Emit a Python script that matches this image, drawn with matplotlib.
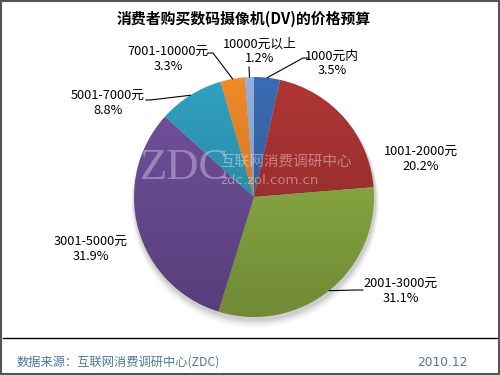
import numpy as np
import matplotlib
matplotlib.use("Agg")
import matplotlib.pyplot as plt
from matplotlib.patches import Circle, Rectangle

plt.rcParams['font.family'] = ['Noto Sans CJK SC', 'DejaVu Sans']

# data
categories = ['1000元内', '1001-2000元', '2001-3000元', '3001-5000元',
              '5001-7000元', '7001-10000元', '10000元以上']
shares = [3.5, 20.2, 31.1, 31.9, 8.8, 3.3, 1.2]
colors = ['#3a6cb3', '#b03535', '#95b747', '#7452a0', '#31a0c0', '#f08a2a', '#94b0dc']

title = '消费者购买数码摄像机(DV)的价格预算'
source = '数据来源：互联网消费调研中心(ZDC)'
date = '2010.12'

# figure in pixel coordinates (y up)
W, H = 500, 375
fig = plt.figure(figsize=(5, 3.75), dpi=100)
ax = fig.add_axes([0, 0, 1, 1])
ax.set_xlim(0, W)
ax.set_ylim(0, H)
ax.set_aspect('equal')
ax.axis('off')

cx, cy, r = 254, H - 197, 120

# soft shadow under the pie
for i, a in enumerate(np.linspace(0.06, 0.02, 5)):
    ax.add_patch(Circle((cx + 1, cy - 3 - i), r + 1 + i * 0.8, color='black',
                        alpha=a, lw=0, zorder=1))

wedges, _ = ax.pie(shares, colors=colors, startangle=90, counterclock=False,
                   center=(cx, cy), radius=r, frame=True,
                   wedgeprops=dict(linewidth=0, zorder=2))
ax.set_xlim(0, W)
ax.set_ylim(0, H)
ax.axis('off')

# vertical darkening gradient over the pie
grad = np.zeros((200, 1, 4))
grad[:, 0, 3] = np.linspace(0.0, 0.25, 200)
im = ax.imshow(grad, extent=(cx - r, cx + r, cy - r, cy + r), origin='upper',
               aspect='auto', zorder=3)
im.set_clip_path(Circle((cx, cy), r, transform=ax.transData))
ax.set_xlim(0, W)
ax.set_ylim(0, H)

# watermark
ax.text(140, H - 168, 'ZDC', family='Liberation Serif', fontsize=32,
        color='#e8e0f0', alpha=0.4, va='center', ha='left', zorder=4)
ax.text(220, H - 162, '互联网消费调研中心', fontsize=10.5, color='white',
        alpha=0.4, va='center', ha='left', zorder=4)
ax.text(220, H - 180, 'zdc.zol.com.cn', family='DejaVu Sans', fontsize=9.5,
        color='white', alpha=0.4, va='center', ha='left', zorder=4)

# labels (pixel positions, y down) and leader lines
label_pos = [(332, 63), (421, 159), (401, 291), (91, 249),
             (108, 103), (168, 59), (260, 51)]
leaders = [[(303, 58), (309, 58)], None, [(357, 290), (363, 290)], None,
           [(150, 100), (146, 100)], [(213, 53), (208, 53)], [(249, 67)]]
for w, cat, val, (lx, ly), ld in zip(wedges, categories, shares, label_pos, leaders):
    ax.text(lx, H - ly, f'{cat}\n{val}%', ha='center', va='center',
            fontsize=9.2, linespacing=1.1, zorder=6)
    if ld is not None:
        th = np.deg2rad((w.theta1 + w.theta2) / 2)
        pts = [(cx + r * np.cos(th), cy + r * np.sin(th))] + \
              [(x, H - y) for x, y in ld]
        xs, ys = zip(*pts)
        ax.plot(xs, ys, color='black', lw=0.8, zorder=5)

ax.text(W / 2 - 6, H - 19, title, ha='center', va='center', fontsize=10.7,
        fontweight='bold', zorder=6)

# footer
ax.plot([3, W - 3], [H - 338, H - 338], color='black', lw=1.0)
ax.text(17, H - 362, source, ha='left', va='center', fontsize=8.8,
        color='#4a7b99')
ax.text(468, H - 362, date, ha='right', va='center', fontsize=8.8,
        color='#4a7b99', family='DejaVu Sans')

ax.add_patch(Rectangle((1, 1), W - 2, H - 2, fill=False, ec='#555555',
                       lw=1.5, zorder=10))

fig.savefig('out.png', dpi=100)
